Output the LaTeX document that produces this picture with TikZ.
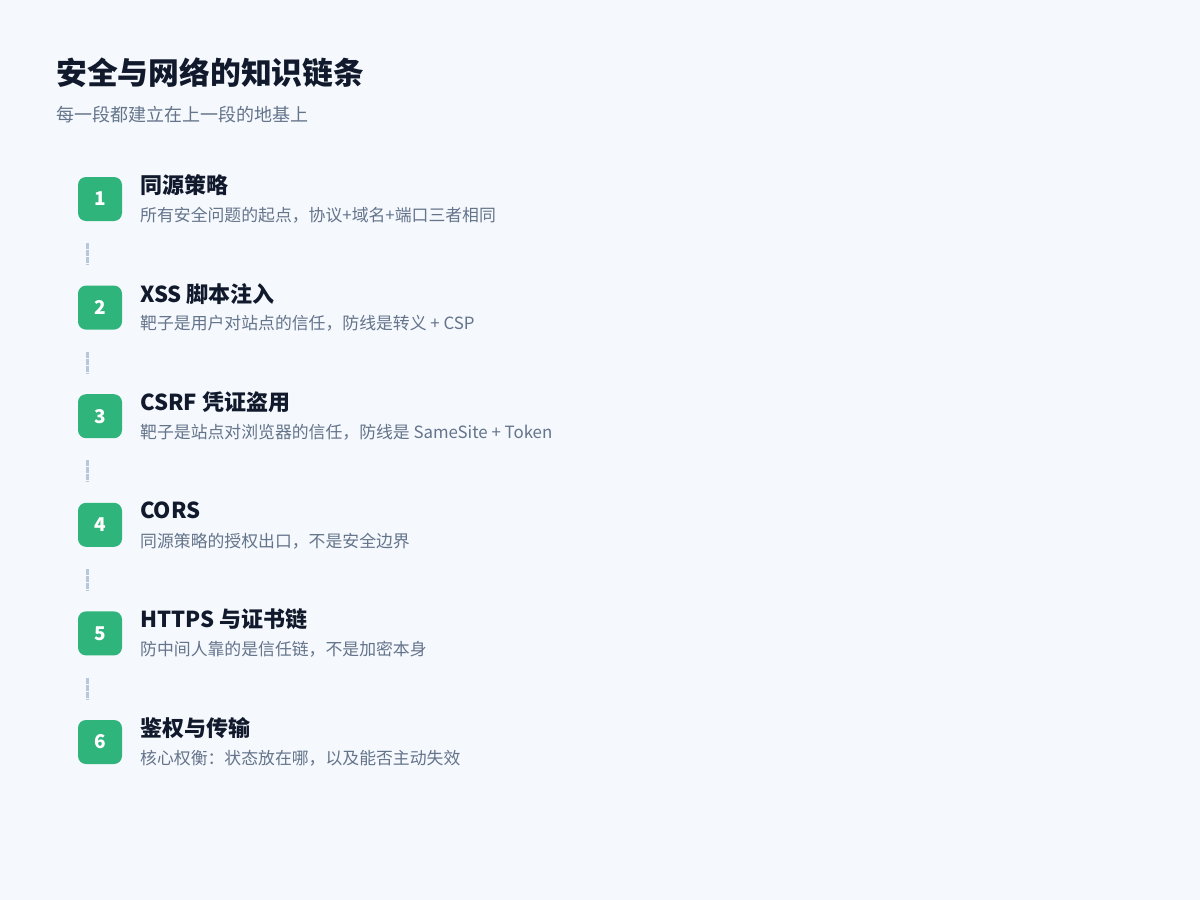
\documentclass[tikz,border=0pt]{standalone}
\usepackage{fontspec}
\setmainfont{Noto Sans CJK SC}
\definecolor{bgc}{HTML}{F5F8FC}
\definecolor{ink}{HTML}{111A2C}
\definecolor{subc}{HTML}{64748B}
\definecolor{badgec}{HTML}{2FB57B}
\definecolor{linkc}{HTML}{B9C7DD}
\begin{document}
\begin{tikzpicture}[x=1pt,y=-1pt,
  badge/.style={fill=badgec,rounded corners=8pt,minimum width=44pt,minimum height=44pt,inner sep=0pt,text=white,font=\fontsize{19}{19}\selectfont\bfseries},
  itemtitle/.style={anchor=west,inner sep=0pt,text=ink,font=\fontsize{22}{23}\selectfont\bfseries},
  itemsub/.style={anchor=west,inner sep=0pt,text=subc,font=\fontsize{16.85}{18}\selectfont},
  link/.style={draw=linkc,line width=3pt,dash pattern=on 6pt off 1pt,shorten <=22pt,shorten >=21pt}]
\fill[bgc] (0,0) rectangle (1200,900);
\useasboundingbox (0,0) rectangle (1200,900);
\node[anchor=west,inner sep=0pt,text=ink,font=\fontsize{30.8}{32}\selectfont\bfseries] (title) at (56,72.5) {安全与网络的知识链条};
\node[anchor=west,inner sep=0pt,text=subc,font=\fontsize{18}{20}\selectfont] (subtitle) at (56,114.5) {每一段都建立在上一段的地基上};
\foreach \i/\t/\s [count=\k from 0] in {
  1/同源策略/{所有安全问题的起点，协议+域名+端口三者相同},
  2/XSS 脚本注入/{靶子是用户对站点的信任，防线是转义 + CSP},
  3/CSRF 凭证盗用/{靶子是站点对浏览器的信任，防线是 SameSite + Token},
  4/CORS/{同源策略的授权出口，不是安全边界},
  5/HTTPS 与证书链/{防中间人靠的是信任链，不是加密本身},
  6/鉴权与传输/{核心权衡：状态放在哪，以及能否主动失效}} {
  \pgfmathsetmacro{\yy}{199+108.6*\k}
  \node[badge] (b\i) at (100,\yy) {\i};
  \node[itemtitle] (t\i) at (140,\yy-14) {\t};
  \node[itemsub] (s\i) at (140,\yy+16) {\s};
}
\foreach \a/\b in {1/2,2/3,3/4,4/5,5/6}
  \draw[link] (b\a.south -| 87.5,0) -- (b\b.north -| 87.5,0);
\end{tikzpicture}
\end{document}
